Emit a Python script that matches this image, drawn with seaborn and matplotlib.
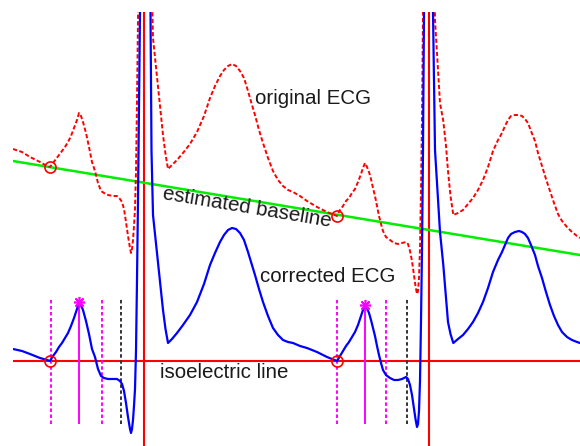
import numpy as np
import matplotlib
matplotlib.use("Agg")
import matplotlib.pyplot as plt
import seaborn as sns

sns.set_style("white")
plt.rcParams['font.family'] = ['Liberation Sans', 'DejaVu Sans']

# ---- data (samples, amplitude in arbitrary units; isoelectric level = 0) ----
t = [13, 22, 30, 40, 47, 50, 53, 56, 59, 62, 65, 68, 71, 74, 77, 79, 81, 83, 86, 89,
     92, 95, 98, 101, 104, 108, 113, 117, 120, 122, 124, 126, 128, 130, 131, 132, 133, 134, 135, 136,
     137, 138, 139, 140, 145, 150.5, 151.5, 153, 157, 160, 163, 165.5, 168, 172, 177, 183, 190, 197, 204, 210,
     215, 220, 224, 228, 232, 236, 240, 244, 248, 252, 255, 259, 263, 268, 273, 278, 283, 288, 293, 300,
     307, 317, 327, 337, 340, 343, 346, 349, 352, 355, 358, 361, 363, 365, 367, 369, 371, 373, 375, 377,
     379, 381, 383, 386, 390, 394, 398, 402, 406, 408, 410, 412, 414, 415.5, 417, 418, 419, 420, 421, 422,
     423, 424, 428, 433, 435, 440, 443.3, 446, 448, 450.5, 453.3, 458, 463, 468, 473, 478, 483, 488, 493, 498,
     502, 505, 508, 511, 515, 519, 522, 525, 528, 531, 535, 538, 542, 546, 550, 554, 558, 562, 567, 572,
     577, 580]

corrected_ecg = [12, 10, 7, 3, 1, 0, 5, 9, 14, 18, 23, 28, 35, 43, 52, 59, 56, 51, 40, 27,
                 12, 4, -8, -15, -17, -18, -18, -18, -20, -23, -30, -42, -56, -68, -72, -68, -59, -45, -28, 10,
                 81, 161, 255, 349, 441, 349, 210, 146, 108, 79, 51, 32, 18, 22, 28, 36, 46, 59, 77, 96,
                 108, 119, 126, 131, 133, 132, 128, 121, 109, 96, 86, 72, 59, 45, 33, 26, 21, 19, 18, 15,
                 13, 9, 4, 0, 5, 10, 15, 19, 24, 29, 36, 45, 51, 56, 53, 48, 41, 33, 25, 15,
                 6, -2, -9, -14, -17, -19, -19, -18, -16, -18, -24, -34, -48, -58, -66, -63, -50, -20, 40, 111,
                 211, 349, 441, 349, 211, 129, 96, 63, 39, 27, 18, 22, 26, 32, 39, 48, 59, 73, 89, 101,
                 109, 116, 123, 127, 129, 130, 129, 127, 123, 116, 106, 95, 83, 69, 56, 45, 36, 29, 24, 21,
                 19, 18]

original_ecg = [212, 209, 204, 199, 195, 194, 198, 202, 206, 210, 214, 219, 225, 233, 241, 248, 245, 239, 228, 214,
                199, 190, 178, 170, 168, 166, 165, 165, 162, 159, 152, 139, 125, 113, 108, 112, 121, 135, 152, 190,
                260, 340, 434, 528, 619, 526, 387, 323, 284, 255, 226, 207, 192, 196, 201, 208, 217, 229, 245, 263,
                275, 285, 291, 295, 297, 295, 290, 283, 270, 256, 246, 231, 218, 203, 190, 181, 175, 171, 169, 165,
                160, 154, 149, 145, 151, 155, 160, 163, 168, 172, 179, 187, 193, 198, 194, 189, 182, 173, 165, 155,
                145, 137, 130, 124, 121, 118, 117, 118, 119, 117, 110, 100, 86, 75, 67, 70, 83, 113, 172, 243,
                343, 481, 572, 479, 341, 258, 240, 215, 190, 165, 146, 148, 151, 157, 163, 171, 181, 194, 210, 221,
                228, 235, 241, 245, 246, 246, 245, 242, 238, 230, 220, 208, 195, 182, 170, 158, 147, 140, 134, 129,
                125, 123]

baseline_t = [13, 580]
baseline_amp = [200, 106]

onset_t = [50, 337]            # P-wave onsets (circles)
onset_orig = [194, 145]
p_peak_t = [79, 365]
p_peak_amp = [59, 56]
p_start_t = [51, 337]
p_end_t = [101.5, 386]
pr_end_t = [121, 407]
r_peak_t = [144, 429]

fig = plt.figure(figsize=(5.8, 4.46), dpi=100)
ax = fig.add_axes([13 / 580, 0, 567 / 580, 434 / 446])
ax.set_xlim(13, 580)
ax.set_ylim(-85, 349)
ax.axis('off')

# isoelectric line and R-peak verticals
ax.axhline(0, color='#ff0000', lw=1.5, zorder=2)
for r in r_peak_t:
    ax.axvline(r, color='#ff0000', lw=1.5, zorder=2)

# wave-boundary marker lines
for a, b, c in zip(p_start_t, p_end_t, pr_end_t):
    ax.vlines([a, b], -63, 62, colors='#ff00ff', linestyles=(0, (1.8, 1.3)), lw=1.4, zorder=3)
    ax.vlines([c], -63, 62, colors='#333333', linestyles=(0, (1.8, 1.3)), lw=1.4, zorder=3)
for d, p in zip(p_peak_t, p_peak_amp):
    ax.vlines([d], -63, p, colors='#ff00ff', lw=1.4, zorder=3)

# estimated baseline
sns.lineplot(x=baseline_t, y=baseline_amp, ax=ax, color='#00ee00', lw=1.8, zorder=3)

# original ECG
sns.lineplot(x=t, y=original_ecg, ax=ax, color='#ff0000', lw=1.4, sort=False,
             estimator=None, linestyle=(0, (2.2, 1.2)), zorder=4)

# corrected ECG
sns.lineplot(x=t, y=corrected_ecg, ax=ax, color='#0000ff', lw=1.6, sort=False,
             estimator=None, zorder=5)

# circles and asterisks
ax.plot(onset_t, [0, 0], 'o', mfc='none', mec='#ff0000', ms=8, mew=1.2, zorder=6)
ax.plot(onset_t, onset_orig, 'o', mfc='none', mec='#ff0000', ms=8, mew=1.2, zorder=6)
ax.plot(p_peak_t, p_peak_amp, ls='none', marker=(8, 2, 0), color='#ff00ff', ms=8, mew=1.2, zorder=6)

fs = 14.8
tc = '#1a1a1a'
ax.text(313, 262, 'original ECG', fontsize=fs, ha='center', va='center', color=tc)
ax.text(247, 153, 'estimated baseline', fontsize=fs, ha='center', va='center',
        rotation=-9.4, rotation_mode='anchor', color=tc)
ax.text(328, 84, 'corrected ECG', fontsize=fs, ha='center', va='center', color=tc)
ax.text(224, -11, 'isoelectric line', fontsize=fs, ha='center', va='center', color=tc)

fig.savefig('out.png', dpi=100)
